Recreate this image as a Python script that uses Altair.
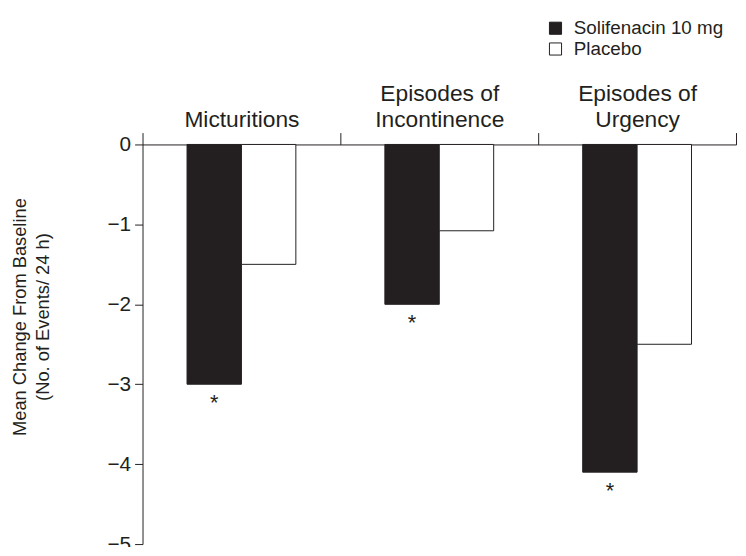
import altair as alt
import pandas as pd

categories = ["Micturitions", "Episodes of|Incontinence", "Episodes of|Urgency"]
groups = ["Solifenacin 10 mg", "Placebo"]
solifenacin = [-3.0, -2.0, -4.1]
placebo = [-1.5, -1.08, -2.5]
significance = ["*", "*", "*"]
y_ticks = [0, -1, -2, -3, -4, -5]

rows = []
for c, s, p in zip(categories, solifenacin, placebo):
    rows.append({"cat": c, "group": groups[0], "value": s})
    rows.append({"cat": c, "group": groups[1], "value": p})
df = pd.DataFrame(rows)
star_df = pd.DataFrame({"cat": categories, "group": groups[0],
                        "value": solifenacin, "label": significance})

FONT = "Liberation Sans"
INK = "#231f20"

label_expr = ("length(split(datum.label, '|')) > 1 ? "
              "[split(datum.label, '|')[1], split(datum.label, '|')[0]] : datum.label")

x_enc = alt.X("cat:N", sort=categories,
              scale=alt.Scale(paddingInner=0, paddingOuter=0),
              axis=alt.Axis(orient="top", title=None, labelAngle=0,
                            labelExpr=label_expr,
                            tickBand="extent", tickSize=12, labelPadding=1,
                            labelFontSize=23, labelLineHeight=-26,
                            labelFont=FONT, labelColor=INK,
                            domainColor=INK, tickColor=INK))
xoff = alt.XOffset("group:N", sort=groups,
                   scale=alt.Scale(paddingOuter=0.818, paddingInner=0))
y_enc = alt.Y("value:Q", scale=alt.Scale(domain=[-5, 0], nice=False),
              axis=alt.Axis(values=y_ticks, format="d", grid=False, tickSize=8,
                            labelFontSize=21, labelFont=FONT, labelColor=INK,
                            labelPadding=4, domainColor=INK, tickColor=INK,
                            title=["Mean Change From Baseline", "(No. of Events/ 24 h)"],
                            titleFont=FONT, titleFontSize=18.5, titleFontWeight="normal",
                            titleColor=INK, titleAngle=-90, titleAlign="center",
                            titleBaseline="middle", titleLineHeight=23,
                            titleX=-124, titleY=174))

bars = alt.Chart(df).mark_bar(stroke=INK, strokeWidth=1).encode(
    x=x_enc, xOffset=xoff, y=y_enc,
    fill=alt.Fill("group:N", sort=groups,
                  scale=alt.Scale(domain=groups, range=[INK, "white"]),
                  legend=alt.Legend(title=None, orient="none", legendX=408, legendY=-127,
                                    symbolType="square", symbolSize=150,
                                    symbolStrokeColor=INK, symbolStrokeWidth=1,
                                    labelFont=FONT, labelFontSize=19, labelColor=INK,
                                    rowPadding=1, labelOffset=9)),
)

stars = alt.Chart(star_df).mark_text(font=FONT, fontSize=22, color=INK,
                                     baseline="top", dy=9).encode(
    x=alt.X("cat:N", sort=categories), xOffset=xoff,
    y=alt.Y("value:Q"), text="label:N")

chart = alt.layer(bars, stars).properties(
    width=600, height=404,
    autosize=alt.AutoSizeParams(type="none"),
    padding={"left": 136, "top": 135, "right": 2, "bottom": 0},
).configure_view(stroke=None)

chart.save("out.html", embed_options={"renderer": "svg", "actions": False})
